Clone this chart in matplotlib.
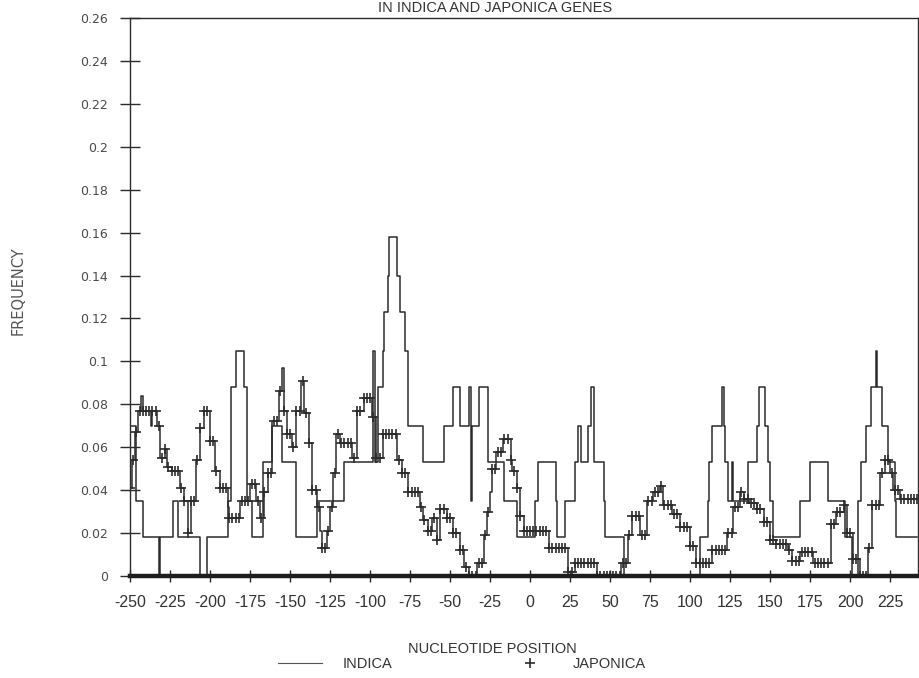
import numpy as np
import matplotlib
matplotlib.use("Agg")
import matplotlib.pyplot as plt
from matplotlib.lines import Line2D

plt.rcParams['axes.unicode_minus'] = False
NARROW = ['Liberation Sans', 'DejaVu Sans']

# ---- data (position -> frequency, step runs)
x_end = 242

ind_pos = [-250, -246, -242, -232, -231, -223, -220, -206, -202, -189,
           -187, -184, -179, -177, -174, -167, -161, -155, -146, -133,
           -116, -98, -97, -95, -92, -91, -89, -88, -83, -81,
           -78, -76, -67, -54, -48, -44, -38, -37, -36, -32,
           -26, -16, -8, 3, 5, 16, 17, 22, 28, 30,
           32, 36, 38, 40, 46, 47, 59, 106, 111, 112,
           114, 120, 121, 122, 124, 126, 127, 136, 142, 143,
           147, 149, 150, 152, 169, 175, 186, 197, 201, 205,
           207, 210, 213, 216, 217, 220, 224, 228, 229]
ind_val = [0.070, 0.035, 0.018, 0.000, 0.018, 0.035, 0.018, 0.000, 0.018, 0.035,
           0.088, 0.105, 0.088, 0.035, 0.018, 0.053, 0.070, 0.053, 0.018, 0.035,
           0.053, 0.105, 0.053, 0.088, 0.105, 0.123, 0.140, 0.158, 0.140, 0.123,
           0.105, 0.070, 0.053, 0.070, 0.088, 0.070, 0.088, 0.035, 0.070, 0.088,
           0.053, 0.035, 0.018, 0.035, 0.053, 0.035, 0.018, 0.035, 0.053, 0.070,
           0.053, 0.070, 0.088, 0.053, 0.035, 0.018, 0.000, 0.018, 0.035, 0.053,
           0.070, 0.088, 0.070, 0.053, 0.035, 0.053, 0.035, 0.053, 0.070, 0.088,
           0.070, 0.053, 0.035, 0.018, 0.035, 0.053, 0.035, 0.018, 0.000, 0.035,
           0.053, 0.070, 0.088, 0.105, 0.088, 0.070, 0.053, 0.035, 0.018]

jap_pos = [-250, -249, -247, -245, -243, -242, -237, -236, -233, -231,
           -228, -227, -224, -219, -216, -214, -212, -209, -206, -204,
           -200, -197, -194, -189, -188, -181, -175, -171, -169, -166,
           -164, -161, -157, -155, -154, -152, -149, -146, -143, -141,
           -138, -136, -133, -131, -130, -127, -125, -123, -121, -119,
           -111, -108, -104, -99, -96, -92, -83, -80, -76, -69,
           -67, -64, -61, -58, -56, -52, -48, -44, -41, -38,
           -33, -29, -27, -25, -24, -21, -17, -12, -11, -8,
           -6, -4, 12, 24, 28, 42, 57, 61, 64, 69,
           73, 77, 81, 83, 89, 94, 100, 104, 114, 123,
           127, 131, 134, 137, 142, 146, 150, 154, 161, 164,
           169, 177, 188, 191, 196, 198, 202, 206, 211, 214,
           219, 222, 225, 227, 231]
jap_val = [0.041, 0.054, 0.067, 0.077, 0.084, 0.077, 0.070, 0.077, 0.070, 0.055,
           0.059, 0.051, 0.049, 0.041, 0.035, 0.020, 0.035, 0.054, 0.069, 0.077,
           0.063, 0.049, 0.041, 0.032, 0.027, 0.035, 0.043, 0.035, 0.027, 0.039,
           0.048, 0.072, 0.086, 0.097, 0.077, 0.066, 0.060, 0.077, 0.091, 0.076,
           0.062, 0.040, 0.032, 0.021, 0.013, 0.021, 0.032, 0.048, 0.066, 0.062,
           0.055, 0.077, 0.083, 0.074, 0.055, 0.066, 0.054, 0.048, 0.039, 0.032,
           0.026, 0.021, 0.027, 0.017, 0.031, 0.027, 0.020, 0.012, 0.004, 0.000,
           0.006, 0.019, 0.030, 0.039, 0.050, 0.058, 0.064, 0.054, 0.049, 0.041,
           0.028, 0.021, 0.013, 0.002, 0.006, 0.000, 0.006, 0.019, 0.028, 0.019,
           0.035, 0.039, 0.042, 0.033, 0.029, 0.023, 0.014, 0.006, 0.012, 0.020,
           0.032, 0.039, 0.036, 0.034, 0.031, 0.025, 0.017, 0.015, 0.012, 0.007,
           0.011, 0.006, 0.024, 0.030, 0.033, 0.020, 0.008, 0.000, 0.013, 0.033,
           0.048, 0.054, 0.048, 0.040, 0.036]

xticks = [-250, -225, -200, -175, -150, -125, -100, -75, -50, -25,
          0, 25, 50, 75, 100, 125, 150, 175, 200, 225]
yticks = [0, 0.02, 0.04, 0.06, 0.08, 0.1, 0.12, 0.14, 0.16, 0.18,
          0.2, 0.22, 0.24, 0.26]

# one value per nucleotide for the japonica markers
jap_x = np.arange(jap_pos[0], x_end + 1)
jap_y = np.repeat(jap_val, np.diff(jap_pos + [x_end + 1]))

ink = '#2b2b2b'
grey = '#4a4a4a'

fig = plt.figure(figsize=(9.2, 6.78), dpi=100)
ax = fig.add_axes([130 / 920, 102 / 678, 788 / 920, 558 / 678])

ax.step(ind_pos + [x_end], ind_val + [ind_val[-1]], where='post',
        color=ink, lw=1.1)
ax.plot(jap_x, jap_y, drawstyle='steps-post', color=ink, lw=1.1,
        marker='+', ms=7.5, mew=1.2, markevery=2)

ax.set_xlim(-250, 242.5)
ax.set_ylim(0, 0.26)

ax.set_xticks(xticks)
ax.set_xticklabels([str(v) for v in xticks], family=NARROW, fontsize=11.5,
                   color='#333333')
ax.set_yticks(yticks)
ax.set_yticklabels([f"{v:g}" for v in yticks], fontsize=9, color=grey)
ax.tick_params(axis='y', direction='inout', length=14, width=1.0,
               color=ink, pad=9)
ax.tick_params(axis='x', direction='inout', length=8, width=1.0,
               color=ink, pad=10)

for side in ['left', 'top', 'right']:
    ax.spines[side].set_color(ink)
    ax.spines[side].set_linewidth(1.0)
ax.spines['bottom'].set_color('#1e1e1e')
ax.spines['bottom'].set_linewidth(3.2)

# texts
fig.text(495 / 920, 1 - 12 / 678, 'IN INDICA AND JAPONICA GENES',
         family=NARROW, fontsize=10.5, color='#333333',
         ha='center', va='baseline')
fig.text(18 / 920, 1 - 291 / 678, 'FREQUENCY', rotation=90,
         fontsize=10.5, color='#555555', ha='center', va='center')
fig.text(492 / 920, 1 - 649 / 678, 'NUCLEOTIDE POSITION',
         family=NARROW, fontsize=10.5, color='#333333',
         ha='center', va='center')

handles = [Line2D([], [], color='#555555', lw=0.8),
           Line2D([], [], ls='none', marker='+', ms=7.5, mew=1.2, color=ink)]
fig.legend(handles, ['INDICA', 'JAPONICA'], ncol=2, frameon=False,
           loc='center left', bbox_to_anchor=(278 / 920, 1 - 664 / 678),
           borderpad=0, borderaxespad=0, handlelength=3.0,
           handletextpad=1.4, columnspacing=8.0,
           prop={'family': NARROW, 'size': 10.5})
for t in fig.legends[0].get_texts():
    t.set_color('#333333')

fig.savefig('out.png', dpi=100)
